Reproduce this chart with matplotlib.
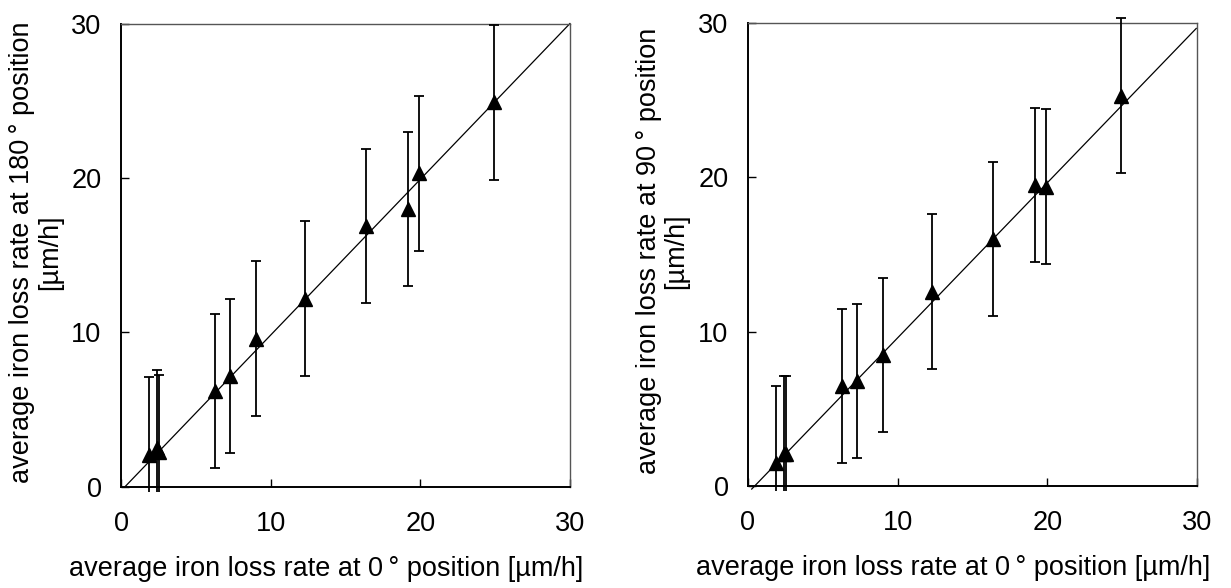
import matplotlib
matplotlib.use("Agg")
import matplotlib.pyplot as plt
from matplotlib.transforms import Bbox, TransformedBbox

plt.rcParams['font.family'] = ['Liberation Sans', 'DejaVu Sans']

# average iron loss rate at 0 deg position (shared x values) [um/h]
rate_0deg = [1.9, 2.38, 2.52, 6.3, 7.3, 9.0, 12.3, 16.4, 19.2, 19.9, 24.9]
# 180 deg position (left panel)
rate_180deg = [2.1, 2.55, 2.25, 6.2, 7.2, 9.6, 12.2, 16.9, 18.0, 20.3, 24.9]
# 90 deg position (right panel)
rate_90deg = [1.5, 2.1, 2.1, 6.5, 6.8, 8.5, 12.6, 16.0, 19.5, 19.4, 25.3]
# error bar half-width
err_180 = [5.0] * 11
err_90 = [5.0] * 11

# y = x reference lines
ref_left = ([0.25, 30.0], [0.0, 30.0])
ref_right = ([0.25, 29.95], [-0.2, 29.65])

ticks = [0, 10, 20, 30]
xlabel = "average iron loss rate at 0\u2009° position [µm/h]"
ylabels = ["average iron loss rate at 180\u2009° position\n[µm/h]",
           "average iron loss rate at 90\u2009° position\n[µm/h]"]

FS = 19.5

fig = plt.figure(figsize=(12.31, 5.88), dpi=100)
ax1 = fig.add_axes([0.0983, 0.1718, 0.3647, 0.7882])
ax2 = fig.add_axes([0.6076, 0.1735, 0.3648, 0.7874])

panels = [(ax1, rate_180deg, err_180, ref_left, ylabels[0]),
          (ax2, rate_90deg, err_90, ref_right, ylabels[1])]

for ax, yvals, yerr, ref, ylab in panels:
    ax.set_xlim(0, 30)
    ax.set_ylim(0, 30)
    ax.plot(ref[0], ref[1], color='black', lw=0.9, clip_on=False, zorder=2)
    eb = ax.errorbar(rate_0deg, yvals, yerr=yerr, fmt='^', color='black',
                     ms=10, capsize=3.8, elinewidth=1.3, capthick=1.3, zorder=3)
    # bars poke just a little below the frame, cut there
    clip = TransformedBbox(Bbox([[-1, -0.35], [31, 40]]), ax.transData)
    for art in list(eb.lines[1]) + list(eb.lines[2]):
        art.set_clip_box(clip)
    eb.lines[0].set_clip_on(False)

    ax.set_xticks(ticks)
    ax.set_yticks(ticks)
    ax.tick_params(direction='in', length=6, width=1, labelsize=FS)
    ax.tick_params(axis='x', pad=17)
    ax.tick_params(axis='y', pad=14)
    for side in ['left', 'bottom']:
        ax.spines[side].set_linewidth(1.4)
    for side in ['top', 'right']:
        ax.spines[side].set_linewidth(1.0)
        ax.spines[side].set_color('#555555')

    ax.set_xlabel(xlabel, fontsize=FS)
    ax.xaxis.set_label_coords(0.457, -0.148)
    ax.set_ylabel(ylab, fontsize=FS, linespacing=1.1)
    ax.yaxis.set_label_coords(-0.13, 0.507)

fig.savefig("out.png", dpi=100)
